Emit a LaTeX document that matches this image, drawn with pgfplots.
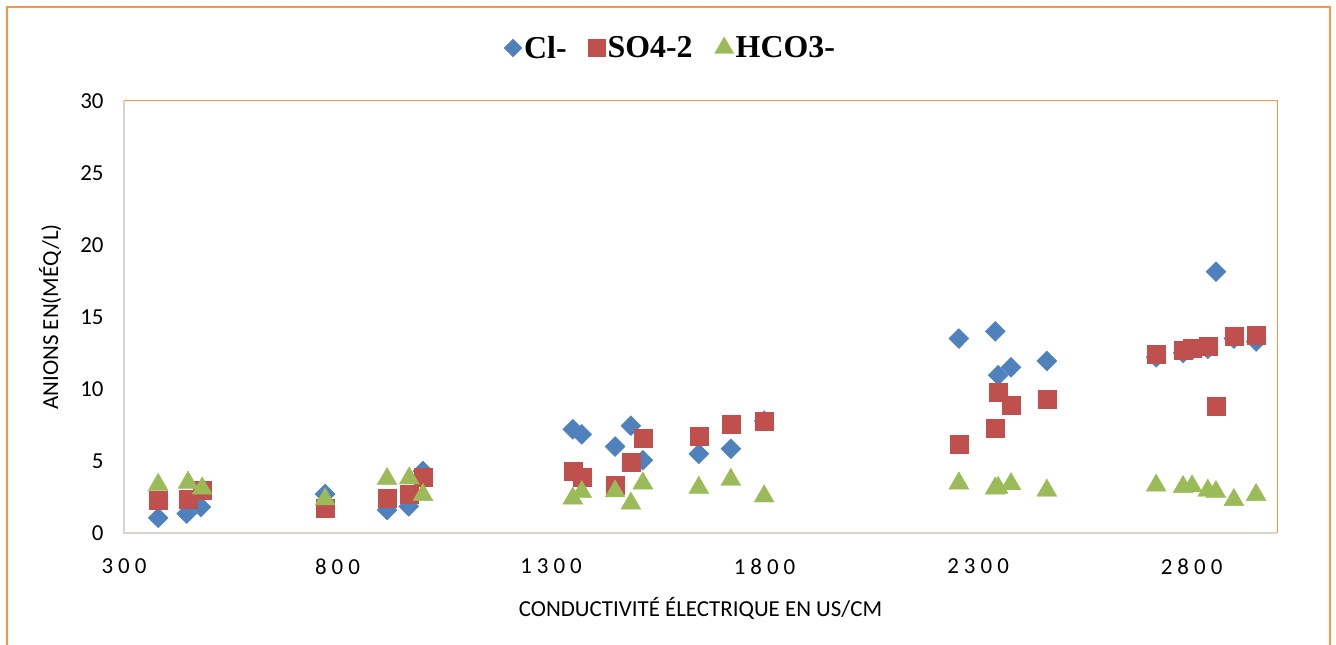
\documentclass[border=0pt]{standalone}
\usepackage{fontspec}
\setmainfont{Carlito}
\newfontfamily\legendfont{Liberation Serif}
\newfontfamily\spacedfont{Carlito}[LetterSpace=22]
\usepackage{pgfplots}
\pgfplotsset{compat=1.18}
\definecolor{clblue}{HTML}{4F81BD}
\definecolor{sored}{HTML}{C0504D}
\definecolor{hcgreen}{HTML}{9BBB59}
\definecolor{frameorange}{HTML}{F79646}
\definecolor{axisgray}{HTML}{D9D4CF}
\begin{document}
\begin{tikzpicture}[x=1bp,y=1bp]
\useasboundingbox (0,0) rectangle (1336,645);
\draw[frameorange,line width=2.5bp] (7,-10) -- (7,638) -- (1330,638) -- (1330,-10);
\begin{axis}[
  at={(124bp,112bp)}, anchor=south west,
  width=1153bp, height=432bp, scale only axis,
  xmin=300, xmax=3000, ymin=0, ymax=30,
  xtick={300,800,1300,1800,2300,2800},
  ytick={0,5,10,15,20,25,30},
  major tick length=0pt,
  axis line style={draw=none},
  /pgf/number format/assume math mode=true,
  scaled x ticks=false,
  xticklabel style={font=\fontsize{23}{25}\selectfont\spacedfont, yshift=-22bp},
  yticklabel style={font=\fontsize{23}{25}\selectfont, xshift=-17bp},
  xticklabel={\pgfmathprintnumber[fixed,1000 sep={}]{\tick}},
  xlabel={CONDUCTIVITÉ ÉLECTRIQUE EN US/CM},
  ylabel={ANIONS EN(MÉQ/L)},
  xlabel style={font=\fontsize{23}{25}\selectfont, yshift=-16bp},
  ylabel style={font=\fontsize{23}{25}\selectfont, yshift=12bp},
  legend columns=3,
  legend style={draw=none, fill=none, font=\fontsize{32}{34}\selectfont\legendfont\bfseries,
    at={(axis description cs:0.474,1)}, anchor=center, yshift=53bp,
    /tikz/every even column/.append style={column sep=20bp}},
  legend cell align=left,
  clip=false,
]
\draw[axisgray, line width=1.5bp] (rel axis cs:0,1) -- (rel axis cs:0,0) -- (rel axis cs:1,0);
\draw[frameorange, line width=1bp] (rel axis cs:0,1) -- (rel axis cs:1,1) -- (rel axis cs:1,0);
\addplot[only marks, mark=diamond*, mark size=10bp, mark options={draw=clblue, fill=clblue, xscale=1.333}, forget plot] coordinates {
(380,1.05) (447,1.35) (480,1.8) (771,2.7) (916,1.6) (967,1.85) (1000,4.3)
(1351,7.2) (1372,6.85) (1450,6.0) (1487,7.45) (1515,5.05) (1646,5.5) (1721,5.85) (1799,7.8)
(2255,13.5) (2340,14.0) (2347,10.95) (2377,11.5) (2461,11.95)
(2717,12.2) (2780,12.5) (2801,12.7) (2838,12.8) (2857,18.15) (2899,13.5) (2951,13.3)
};
\addplot[only marks, mark=square*, mark size=9bp, mark options={draw=sored, fill=sored}, forget plot] coordinates {
(380,2.25) (450,2.35) (483,2.95) (771,1.7) (916,2.45) (968,2.7) (1000,3.85)
(1351,4.3) (1372,3.9) (1450,3.3) (1487,4.95) (1515,6.6) (1646,6.75) (1721,7.55) (1799,7.75)
(2255,6.15) (2340,7.3) (2347,9.75) (2377,8.85) (2461,9.3)
(2717,12.45) (2780,12.7) (2801,12.85) (2838,12.95) (2857,8.8) (2899,13.7) (2951,13.75)
};
\addplot[only marks, mark=triangle*, mark size=11.5bp, mark options={draw=hcgreen, fill=hcgreen}, forget plot] coordinates {
(380,3.35) (450,3.5) (483,3.1) (771,2.35) (916,3.75) (968,3.8) (1000,2.65)
(1351,2.4) (1372,2.85) (1450,2.9) (1487,2.05) (1515,3.45) (1646,3.15) (1721,3.7) (1799,2.55)
(2255,3.45) (2340,3.1) (2347,3.15) (2377,3.4) (2461,2.95)
(2717,3.3) (2780,3.2) (2801,3.25) (2838,2.95) (2857,2.85) (2899,2.3) (2951,2.65)
};
\addlegendimage{only marks, mark=diamond*, mark size=9bp, mark options={draw=clblue, fill=clblue, xscale=1.333}}
\addlegendentry{Cl-}
\addlegendimage{only marks, mark=square*, mark size=8.5bp, mark options={draw=sored, fill=sored}}
\addlegendentry{SO4-2}
\addlegendimage{only marks, mark=triangle*, mark size=11bp, mark options={draw=hcgreen, fill=hcgreen}}
\addlegendentry{HCO3-}
\end{axis}
\end{tikzpicture}
\end{document}
